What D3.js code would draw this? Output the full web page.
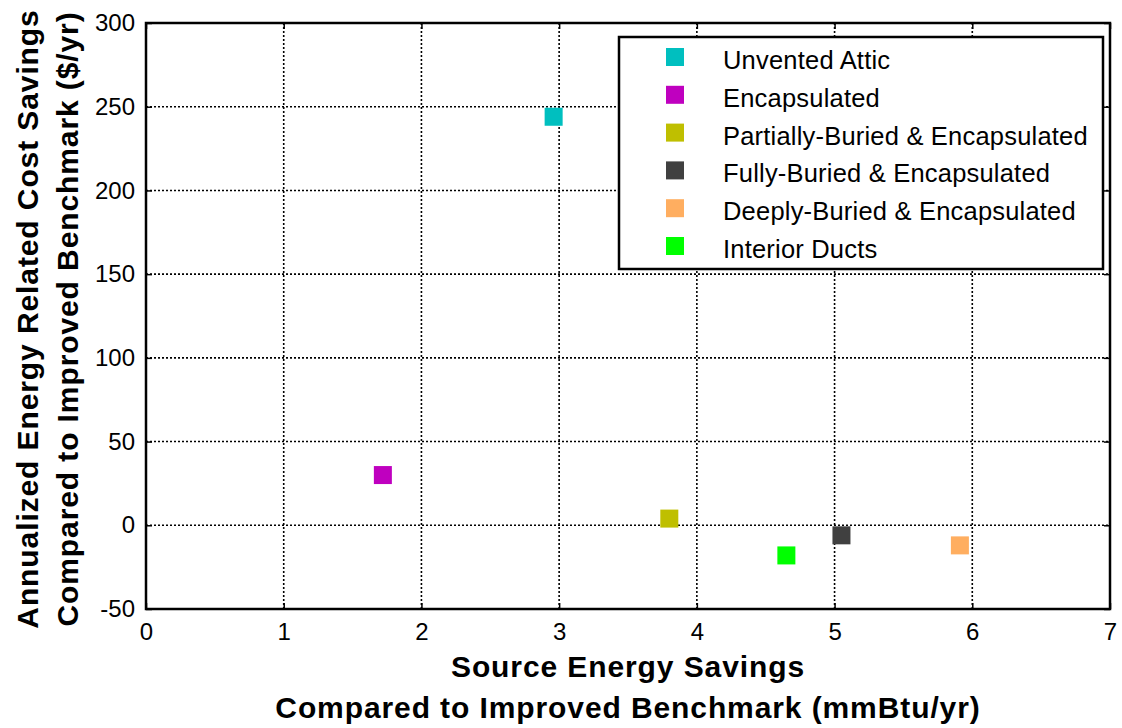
<!DOCTYPE html>
<html>
<head>
<meta charset="utf-8">
<script src="https://cdn.jsdelivr.net/npm/d3@7"></script>
<style>
  html, body { margin: 0; padding: 0; background: #fff; }
  svg { display: block; font-family: "Liberation Sans", Arial, sans-serif; }
</style>
</head>
<body>
<svg id="chart" width="1122" height="728"></svg>
<script>
// Duct configuration scenarios
const categories = [
  "Unvented Attic",
  "Encapsulated",
  "Partially-Buried & Encapsulated",
  "Fully-Buried & Encapsulated",
  "Deeply-Buried & Encapsulated",
  "Interior Ducts"
];
// Source energy savings (mmBtu/yr)
const sourceSavings = [2.96, 1.72, 3.80, 5.05, 5.91, 4.65];
// Annualized energy related cost savings ($/yr)
const costSavings = [244, 30, 4, -6, -12, -18];
const colors = ["#00BFBF", "#BF00BF", "#BFBF00", "#404040", "#FFAE60", "#00FF00"];

const xTicks = [0, 1, 2, 3, 4, 5, 6, 7];
const yTicks = [-50, 0, 50, 100, 150, 200, 250, 300];

const svg = d3.select("#chart");
const plot = { left: 146, right: 1110, top: 23, bottom: 609 };

const x = d3.scaleLinear().domain([0, 7]).range([plot.left, plot.right]);
const y = d3.scaleLinear().domain([-50, 300]).range([plot.bottom, plot.top]);

// Plain integer labels with an ASCII hyphen for negatives
const fmt = d => String(d);

// Dotted grid
const grid = svg.append("g").attr("stroke", "#000").attr("stroke-width", 1.6)
  .attr("stroke-dasharray", "2,2");
grid.selectAll("line.gx").data(xTicks.slice(1, -1)).join("line")
  .attr("x1", d => x(d)).attr("x2", d => x(d))
  .attr("y1", plot.top).attr("y2", plot.bottom);
grid.selectAll("line.gy").data(yTicks.slice(1, -1)).join("line")
  .attr("y1", d => y(d)).attr("y2", d => y(d))
  .attr("x1", plot.left).attr("x2", plot.right);

// Axes with inward ticks
const tickLen = 6;
const fontTick = "24px";
const xAxisB = svg.append("g").attr("transform", `translate(0,${plot.bottom})`)
  .call(d3.axisBottom(x).tickValues(xTicks).tickFormat(fmt).tickSizeInner(-tickLen).tickSizeOuter(0).tickPadding(14));
const xAxisT = svg.append("g").attr("transform", `translate(0,${plot.top})`)
  .call(d3.axisTop(x).tickValues(xTicks).tickSizeInner(-tickLen).tickSizeOuter(0).tickFormat(""));
const yAxisL = svg.append("g").attr("transform", `translate(${plot.left},0)`)
  .call(d3.axisLeft(y).tickValues(yTicks).tickFormat(fmt).tickSizeInner(-tickLen).tickSizeOuter(0).tickPadding(11));
const yAxisR = svg.append("g").attr("transform", `translate(${plot.right},0)`)
  .call(d3.axisRight(y).tickValues(yTicks).tickSizeInner(-tickLen).tickSizeOuter(0).tickFormat(""));

[xAxisB, xAxisT, yAxisL, yAxisR].forEach(g => {
  g.select(".domain").remove();
  g.selectAll(".tick line").attr("stroke", "#000").attr("stroke-width", 1.5);
  g.selectAll(".tick text").attr("fill", "#000").style("font-size", fontTick)
    .style("font-family", "'Liberation Sans', Arial, sans-serif");
});

// Frame
svg.append("rect")
  .attr("x", plot.left).attr("y", plot.top)
  .attr("width", plot.right - plot.left).attr("height", plot.bottom - plot.top)
  .attr("fill", "none").attr("stroke", "#000").attr("stroke-width", 2.5);

// Data markers
const ms = 18;
svg.append("g").selectAll("rect").data(categories).join("rect")
  .attr("x", (d, i) => x(sourceSavings[i]) - ms / 2)
  .attr("y", (d, i) => y(costSavings[i]) - ms / 2)
  .attr("width", ms).attr("height", ms)
  .attr("fill", (d, i) => colors[i]);

// Legend
const lg = { x: 619, y: 37, w: 484, h: 232 };
const legend = svg.append("g");
legend.append("rect")
  .attr("x", lg.x).attr("y", lg.y).attr("width", lg.w).attr("height", lg.h)
  .attr("fill", "#fff").attr("stroke", "#000").attr("stroke-width", 2.5);
const rowY = d3.scaleLinear().domain([0, 5]).range([59, 248]);
const rows = legend.selectAll("g.row").data(categories).join("g")
  .attr("transform", (d, i) => `translate(0,${rowY(i)})`);
rows.append("rect")
  .attr("x", 675 - ms / 2).attr("y", -ms / 2 - 2).attr("width", ms).attr("height", ms)
  .attr("fill", (d, i) => colors[i]);
rows.append("text")
  .attr("x", 723).attr("y", 10)
  .style("font-size", "25.5px").style("letter-spacing", "0.2px").attr("fill", "#000")
  .text(d => d);

// Axis titles
const titleStyle = sel => sel.attr("text-anchor", "middle")
  .style("font-family", "'Liberation Sans', Arial, sans-serif")
  .style("font-weight", "bold").style("font-size", "30px")
  .style("letter-spacing", "0.9px");
svg.append("text").attr("x", 628).attr("y", 677).call(titleStyle)
  .text("Source Energy Savings");
svg.append("text").attr("x", 628).attr("y", 718).call(titleStyle)
  .text("Compared to Improved Benchmark (mmBtu/yr)");
const yt = svg.append("g").attr("transform", "translate(0,319) rotate(-90)");
yt.append("text").attr("x", 0).attr("y", 38).call(titleStyle)
  .text("Annualized Energy Related Cost Savings");
yt.append("text").attr("x", 0).attr("y", 78).call(titleStyle)
  .text("Compared to Improved Benchmark ($/yr)");
</script>
</body>
</html>
